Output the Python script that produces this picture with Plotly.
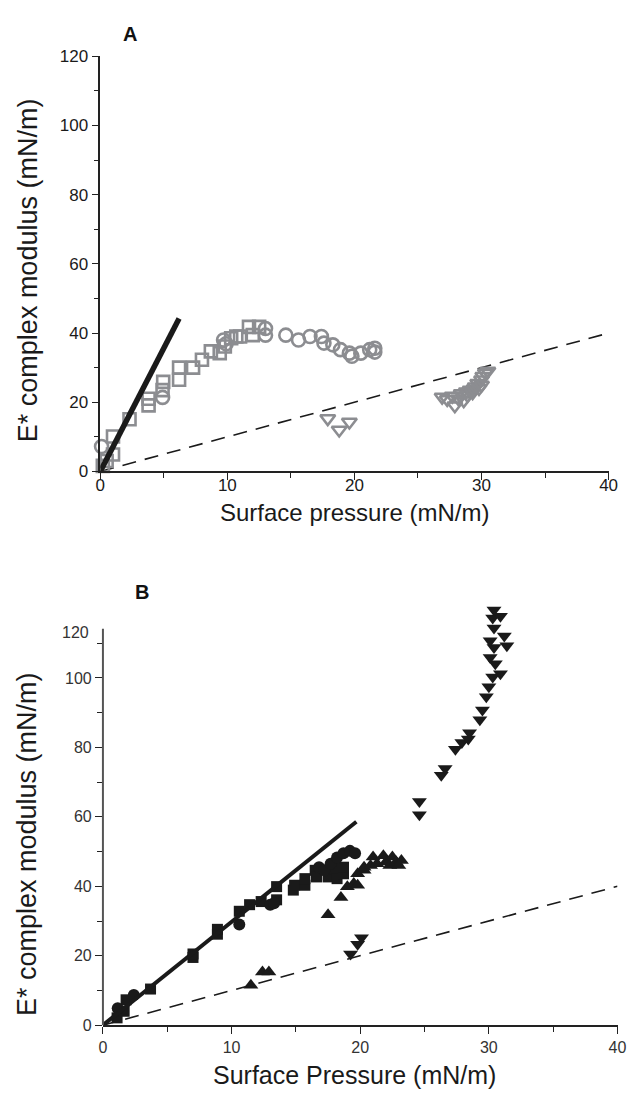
import plotly.graph_objects as go

# ---------------- Panel A data (open gray markers) ----------------
a_sq_x = [0.2, 0.5, 1.0, 1.0, 2.3, 3.8, 3.8, 4.9, 4.95, 6.2, 6.2, 7.3, 8.0, 8.7, 9.4, 9.8, 10.3, 10.7, 11.0, 11.7, 12.0, 12.5]
a_sq_y = [1.6, 3.0, 4.9, 10.1, 15.1, 19.1, 21.0, 23.5, 25.9, 26.5, 30.0, 30.0, 32.3, 34.7, 34.2, 36.1, 38.5, 39.0, 39.0, 41.8, 39.4, 41.8]

a_ci_x = [0.1, 4.9, 9.7, 9.9, 13.0, 13.0, 14.6, 15.6, 16.5, 17.4, 17.6, 18.3, 18.9, 19.6, 19.8, 20.5, 21.2, 21.6, 21.6]
a_ci_y = [7.2, 21.4, 38.0, 36.9, 41.3, 39.4, 39.4, 38.0, 39.0, 39.0, 37.1, 36.6, 35.2, 34.2, 33.3, 34.2, 35.2, 34.5, 35.6]

a_td_x = [17.9, 18.8, 19.6, 26.9, 27.3, 27.7, 27.9, 28.2, 28.4, 28.6, 28.8, 28.9, 29.1, 29.3, 29.4, 29.5, 29.7, 29.8, 30.0, 30.0, 30.1, 30.3, 30.5]
a_td_y = [15.3, 12.0, 14.3, 21.5, 20.8, 21.8, 19.0, 21.0, 22.5, 20.5, 23.0, 22.0, 23.5, 22.8, 23.8, 24.5, 25.5, 24.0, 25.0, 26.5, 27.5, 28.5, 29.0]

a_fit_x = [0, 6.2]
a_fit_y = [0, 44.2]
a_ref_x = [0, 40]
a_ref_y = [0, 40]

# ---------------- Panel B data (filled black markers) ----------------
b_sq_x = [1.1, 1.65, 1.8, 3.7, 7.0, 7.0, 8.9, 8.9, 10.6, 11.4, 12.3, 13.5, 13.5, 14.8, 14.9, 15.7, 15.7, 16.5, 16.6, 17.5, 17.9, 18.0, 18.2, 18.7, 18.7]
b_sq_y = [2.1, 4.0, 7.3, 10.4, 19.5, 20.5, 26.2, 27.6, 32.8, 34.7, 35.6, 36.1, 39.9, 38.9, 40.3, 40.3, 42.2, 44.6, 42.7, 42.7, 45.5, 45.0, 42.2, 43.6, 45.5]

b_ci_x = [1.15, 2.4, 10.6, 13.0, 13.3, 16.8, 17.2, 17.7, 18.2, 18.7, 19.2, 19.6]
b_ci_y = [4.9, 8.7, 29.0, 34.7, 35.1, 45.5, 44.6, 46.5, 48.3, 49.5, 50.2, 49.5]

b_tu_x = [11.5, 12.4, 12.9, 17.5, 18.5, 19.0, 19.5, 19.8, 19.8, 20.3, 20.3, 20.8, 21.0, 21.3, 21.8, 22.0, 22.3, 22.5, 22.8, 23.2, 23.0]
b_tu_y = [11.5, 15.3, 15.3, 31.8, 36.8, 39.9, 40.8, 40.3, 43.6, 44.6, 45.5, 46.0, 48.4, 46.5, 48.8, 47.0, 46.0, 48.4, 47.0, 47.4, 46.0]

b_td_x = [19.25, 19.8, 20.1, 24.6, 24.6, 26.3, 26.6, 27.4, 27.9, 28.4, 28.5, 29.3, 29.5, 29.8, 30.0, 30.3, 30.9, 30.5, 30.1, 30.4, 30.1, 31.4, 31.2, 30.4, 30.3, 30.9, 30.4]
b_td_y = [20.5, 23.3, 25.2, 60.6, 64.4, 72.0, 73.9, 79.5, 81.4, 82.4, 84.2, 88.0, 90.8, 94.6, 97.5, 100.3, 101.2, 104.1, 105.9, 108.8, 110.7, 109.3, 112.1, 114.4, 117.3, 117.8, 119.6]

b_fit_x = [0, 19.7]
b_fit_y = [0, 58.6]
b_ref_x = [0, 40]
b_ref_y = [0, 40]

x_ticks = [0, 10, 20, 30, 40]
y_ticks = [0, 20, 40, 60, 80, 100, 120]
y_ticks_b = [0, 20, 40, 60, 80, 100]

GRAY = "rgb(140,141,145)"
BLACK = "#1a1a1a"
# page body has an 8px default margin: figure is sized to fit the 639x1108 window
OFF = 8
W, H = 639 - 2 * OFF, 1108 - 2 * OFF

def px(x):
    return (x - OFF) / W

def py(y):
    return 1 - (y - OFF) / H

fig = go.Figure()

def open_mk(sym, size=13):
    return dict(symbol=sym, size=size, color=GRAY, line=dict(color=GRAY, width=2.6))

def fill_mk(sym, size=11):
    return dict(symbol=sym, size=size, color=BLACK, line=dict(width=0))

# Panel A
fig.add_trace(go.Scatter(x=a_ref_x, y=a_ref_y, mode="lines", xaxis="x", yaxis="y",
                         line=dict(color=BLACK, width=1.6, dash="14px,9px"), showlegend=False))
fig.add_trace(go.Scatter(x=a_sq_x, y=a_sq_y, mode="markers", xaxis="x", yaxis="y",
                         marker=open_mk("square-open", 12), cliponaxis=False, showlegend=False))
fig.add_trace(go.Scatter(x=a_ci_x, y=a_ci_y, mode="markers", xaxis="x", yaxis="y",
                         marker=open_mk("circle-open", 13), cliponaxis=False, showlegend=False))
fig.add_trace(go.Scatter(x=a_td_x, y=a_td_y, mode="markers", xaxis="x", yaxis="y",
                         marker=open_mk("triangle-down-open", 13), cliponaxis=False, showlegend=False))
fig.add_trace(go.Scatter(x=a_fit_x, y=a_fit_y, mode="lines", xaxis="x", yaxis="y",
                         line=dict(color=BLACK, width=5.5), showlegend=False))

# Panel B
fig.add_trace(go.Scatter(x=b_ref_x, y=b_ref_y, mode="lines", xaxis="x2", yaxis="y2",
                         line=dict(color=BLACK, width=1.6, dash="14px,9px"), showlegend=False))
fig.add_trace(go.Scatter(x=b_sq_x, y=b_sq_y, mode="markers", xaxis="x2", yaxis="y2",
                         marker=fill_mk("square", 11), cliponaxis=False, showlegend=False))
fig.add_trace(go.Scatter(x=b_ci_x, y=b_ci_y, mode="markers", xaxis="x2", yaxis="y2",
                         marker=fill_mk("circle", 12), cliponaxis=False, showlegend=False))
fig.add_trace(go.Scatter(x=b_tu_x, y=b_tu_y, mode="markers", xaxis="x2", yaxis="y2",
                         marker=fill_mk("triangle-up", 13), cliponaxis=False, showlegend=False))
fig.add_trace(go.Scatter(x=b_td_x, y=b_td_y, mode="markers", xaxis="x2", yaxis="y2",
                         marker=fill_mk("triangle-down", 13), cliponaxis=False, showlegend=False))
fig.add_trace(go.Scatter(x=b_fit_x, y=b_fit_y, mode="lines", xaxis="x2", yaxis="y2",
                         line=dict(color=BLACK, width=4), showlegend=False))

FONT = "Liberation Sans, Arial, sans-serif"
tickfont = dict(family=FONT, size=17, color="#1a1a1a")
tickfont_b = dict(family=FONT, size=16, color="#333")

def xaxis(domain, anchor, tf, standoff):
    return dict(domain=domain, anchor=anchor, range=[0, 40], tickmode="array", tickvals=x_ticks,
                ticks="outside", ticklen=7, tickwidth=1.3, tickcolor="#222",
                minor=dict(tickmode="linear", tick0=0, dtick=5, ticks="outside", ticklen=5, tickwidth=1.2, tickcolor="#222"),
                showline=True, linecolor="#222", linewidth=1.5, showgrid=False, zeroline=False,
                tickfont=tf, ticklabelstandoff=standoff)

def yaxis(domain, anchor, tv, tf, rng, showline=True):
    return dict(domain=domain, anchor=anchor, range=rng, tickmode="array", tickvals=tv,
                ticks="outside", ticklen=7, tickwidth=1.3, tickcolor="#222",
                minor=dict(tickmode="linear", tick0=0, dtick=10, ticks="outside", ticklen=5, tickwidth=1.2, tickcolor="#222"),
                showline=showline, linecolor="#222", linewidth=1.5, showgrid=False, zeroline=False,
                tickfont=tf)

xa_dom = [px(97.3), px(617.3)]
ya_dom = [py(470.5), py(48)]
xb_dom = [px(100.0), px(626.4)]
yb_dom = [py(1034), py(610.2)]

annotations = [
    dict(text="<b>A</b>", x=px(128), y=py(25), xref="paper", yref="paper", showarrow=False,
         font=dict(family=FONT, size=20, color="#111"), xanchor="center", yanchor="middle"),
    dict(text="<b>B</b>", x=px(140), y=py(593), xref="paper", yref="paper", showarrow=False,
         font=dict(family=FONT, size=20, color="#111"), xanchor="center", yanchor="middle"),
    dict(text="E* complex modulus (mN/m)", x=px(23), y=py(266), xref="paper", yref="paper",
         showarrow=False, textangle=-90, font=dict(family=FONT, size=27, color="#1a1a1a"),
         xanchor="center", yanchor="middle"),
    dict(text="Surface pressure (mN/m)", x=px(357), y=py(512), xref="paper", yref="paper",
         showarrow=False, font=dict(family=FONT, size=24, color="#1a1a1a"),
         xanchor="center", yanchor="middle"),
    dict(text="E* complex modulus (mN/m)", x=px(23), y=py(850), xref="paper", yref="paper",
         showarrow=False, textangle=-90, font=dict(family=FONT, size=27, color="#1a1a1a"),
         xanchor="center", yanchor="middle"),
    dict(text="Surface Pressure (mN/m)", x=px(357), y=py(1085), xref="paper", yref="paper",
         showarrow=False, font=dict(family=FONT, size=25, color="#1a1a1a"),
         xanchor="center", yanchor="middle"),
    dict(text="120", x=px(88), y=py(634), xref="paper", yref="paper", showarrow=False,
         font=tickfont_b, xanchor="right", yanchor="middle"),
]

shapes = [
    dict(type="line", xref="x2 domain", yref="y2", x0=0, x1=0, y0=0, y1=114.2,
         line=dict(color="#555", width=2)),
]

fig.update_layout(
    width=W, height=H, margin=dict(l=0, r=0, t=0, b=0),
    paper_bgcolor="white", plot_bgcolor="white",
    xaxis=xaxis(xa_dom, "y", tickfont, -10),
    yaxis=yaxis(ya_dom, "x", y_ticks, tickfont, [0, 120]),
    xaxis2=xaxis(xb_dom, "y2", tickfont_b, 0),
    yaxis2=yaxis(yb_dom, "x2", y_ticks_b, tickfont_b, [0, 119.95], showline=False),
    annotations=annotations, shapes=shapes, showlegend=False,
)

fig.write_html("out.html")
